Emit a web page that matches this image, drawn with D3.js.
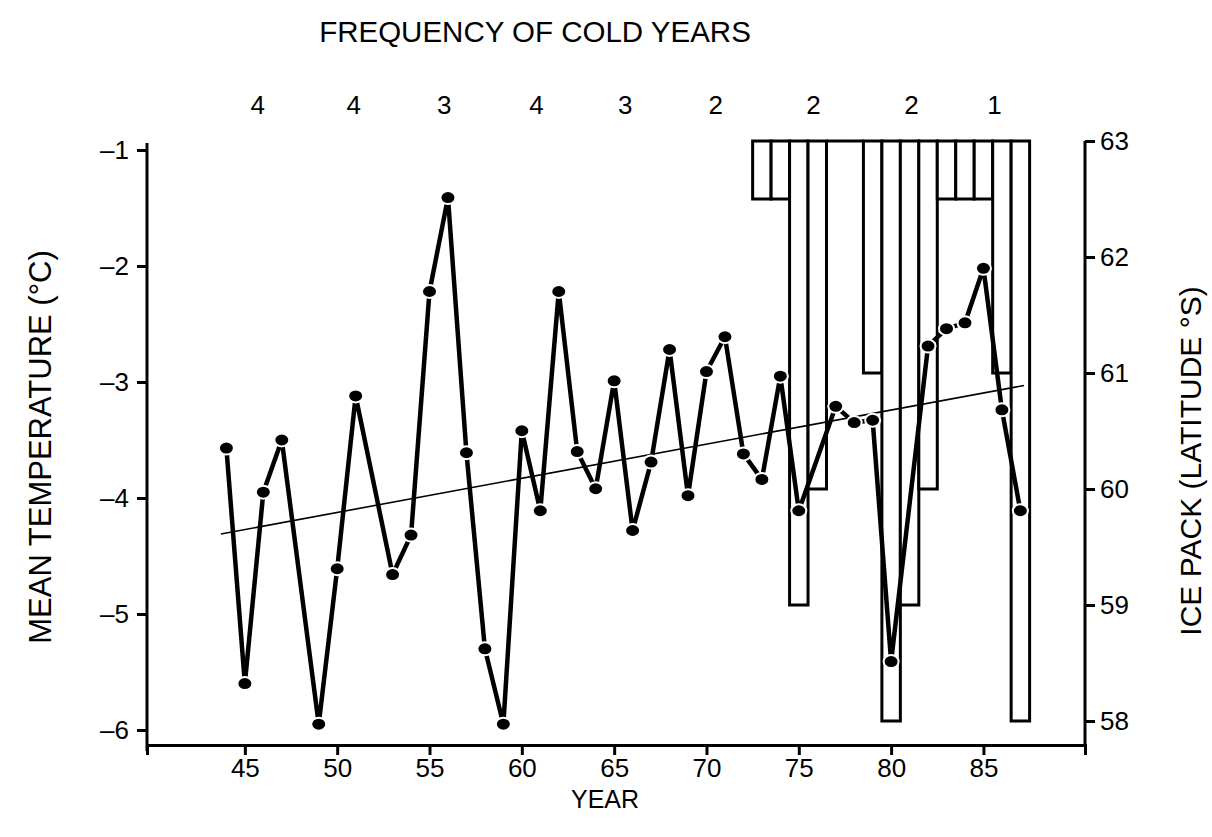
<!DOCTYPE html>
<html><head><meta charset="utf-8">
<script src="https://cdn.jsdelivr.net/npm/d3@7"></script>
<style>
body{margin:0;background:#fff}
svg{display:block}
text{font-family:"Liberation Sans",Arial,Helvetica,sans-serif;fill:#000}
</style>
</head><body>
<svg id="c" width="1212" height="837"></svg>
<script>
// ---- data ----
const years = [44,45,46,47,49,50,51,53,54,55,56,57,58,59,60,61,62,63,64,65,66,67,68,69,70,71,72,73,74,75,77,78,79,80,82,83,84,85,86,87];
const temps = [-3.57,-5.60,-3.95,-3.50,-5.95,-4.61,-3.12,-4.66,-4.32,-2.22,-1.41,-3.61,-5.3,-5.95,-3.42,-4.11,-2.22,-3.60,-3.92,-2.99,-4.28,-3.69,-2.72,-3.98,-2.91,-2.61,-3.62,-3.84,-2.95,-4.11,-3.21,-3.35,-3.33,-5.41,-2.69,-2.54,-2.49,-2.02,-3.24,-4.11];
const iceYears = [73,74,75,76,77,78,79,80,81,82,83,84,85,86,87];
const iceLat = [62.5,62.5,59,60,63,63,61,58,59,60,62.5,62.5,62.5,61,58];
const trendYears = [43.7,87.2];
const trendTemps = [-4.31,-3.03];
const freqCenters = [45.7,50.9,55.8,60.8,65.6,70.5,75.8,81.1,85.6];
const freqCounts = [4,4,3,4,3,2,2,2,1];
const yearTicks = [45,50,55,60,65,70,75,80,85];
const tempTicks = [-1,-2,-3,-4,-5,-6];
const iceTicks = [63,62,61,60,59,58];

// ---- layout ----
const svg = d3.select("#c");
const left = 147, right = 1085, bottom = 745;
const x = d3.scaleLinear().domain([39.7, 90.5]).range([left, right]);
const yT = d3.scaleLinear().domain([-1, -6]).range([150, 730]);
const yI = d3.scaleLinear().domain([63, 58]).range([141, 721]);
const FS = 26;

// bars (ice pack) drawn as open boxes hanging from 63°S
svg.append("g").selectAll("path").data(iceYears).join("path")
  .attr("d", (d, i) => {
    const x0 = x(d - 0.5), x1 = x(d + 0.5), t = yI(63), b = yI(iceLat[i]);
    return `M${x0},${t}V${b}H${x1}V${t}Z`;
  })
  .attr("fill", "#fff").attr("stroke", "#000").attr("stroke-width", 3)
  .attr("stroke-linejoin", "miter");

// trend line
svg.append("line")
  .attr("x1", x(trendYears[0])).attr("y1", yT(trendTemps[0]))
  .attr("x2", x(trendYears[1])).attr("y2", yT(trendTemps[1]))
  .attr("stroke", "#000").attr("stroke-width", 1.6);

// temperature line
const pts = years.map((y, i) => [y, temps[i]]);
svg.append("path").datum(pts)
  .attr("d", d3.line().x(d => x(d[0])).y(d => yT(d[1])))
  .attr("fill", "none").attr("stroke", "#000").attr("stroke-width", 4.5)
  .attr("stroke-linejoin", "round");

svg.append("g").selectAll("ellipse").data(pts).join("ellipse")
  .attr("cx", d => x(d[0])).attr("cy", d => yT(d[1]))
  .attr("rx", 7.5).attr("ry", 6.5)
  .attr("fill", "#000").attr("stroke", "#fff").attr("stroke-width", 2);

// axes
const gx = svg.append("g").attr("transform", `translate(0,${bottom})`)
  .call(d3.axisBottom(x).tickValues(yearTicks).tickSize(10).tickSizeOuter(10).tickPadding(4));
const gl = svg.append("g").attr("transform", `translate(${left},0)`)
  .call(d3.axisLeft(yT).tickValues(tempTicks).tickSize(10).tickPadding(8)
    .tickFormat(d => "\u2013" + Math.abs(d)));
gl.select(".domain").remove();
svg.append("line").attr("x1", left).attr("x2", left).attr("y1", 143).attr("y2", bottom + 6)
  .attr("stroke", "#000").attr("stroke-width", 3);
const gr = svg.append("g").attr("transform", `translate(${right},0)`)
  .call(d3.axisRight(yI).tickValues(iceTicks).tickSize(10).tickPadding(5).tickFormat(d3.format("d")));
gr.select(".domain").remove();
svg.append("line").attr("x1", right).attr("x2", right).attr("y1", yI(63)).attr("y2", bottom)
  .attr("stroke", "#000").attr("stroke-width", 3);

[gx, gl, gr].forEach(g => {
  g.selectAll("path,line").attr("stroke", "#000").attr("stroke-width", 3);
  g.selectAll("text").attr("font-size", FS).attr("font-family", '"Liberation Sans",Arial,sans-serif').attr("fill", "#000");
});

// top frequency labels
svg.append("text").attr("x", 535).attr("y", 42).attr("text-anchor", "middle")
  .attr("font-size", 29.5).text("FREQUENCY OF COLD YEARS");
svg.append("g").selectAll("text").data(freqCenters).join("text")
  .attr("x", d => x(d)).attr("y", 114).attr("text-anchor", "middle")
  .attr("font-size", 26).text((d, i) => freqCounts[i]);

// axis titles
svg.append("text").attr("transform", "translate(51,447) rotate(-90)")
  .attr("text-anchor", "middle").attr("font-size", 31).text("MEAN TEMPERATURE (°C)");
svg.append("text").attr("transform", "translate(1201,461) rotate(-90)")
  .attr("text-anchor", "middle").attr("font-size", 30).text("ICE PACK (LATITUDE °S)");
svg.append("text").attr("x", 605).attr("y", 808).attr("text-anchor", "middle")
  .attr("font-size", 25).text("YEAR");
</script>
</body></html>
